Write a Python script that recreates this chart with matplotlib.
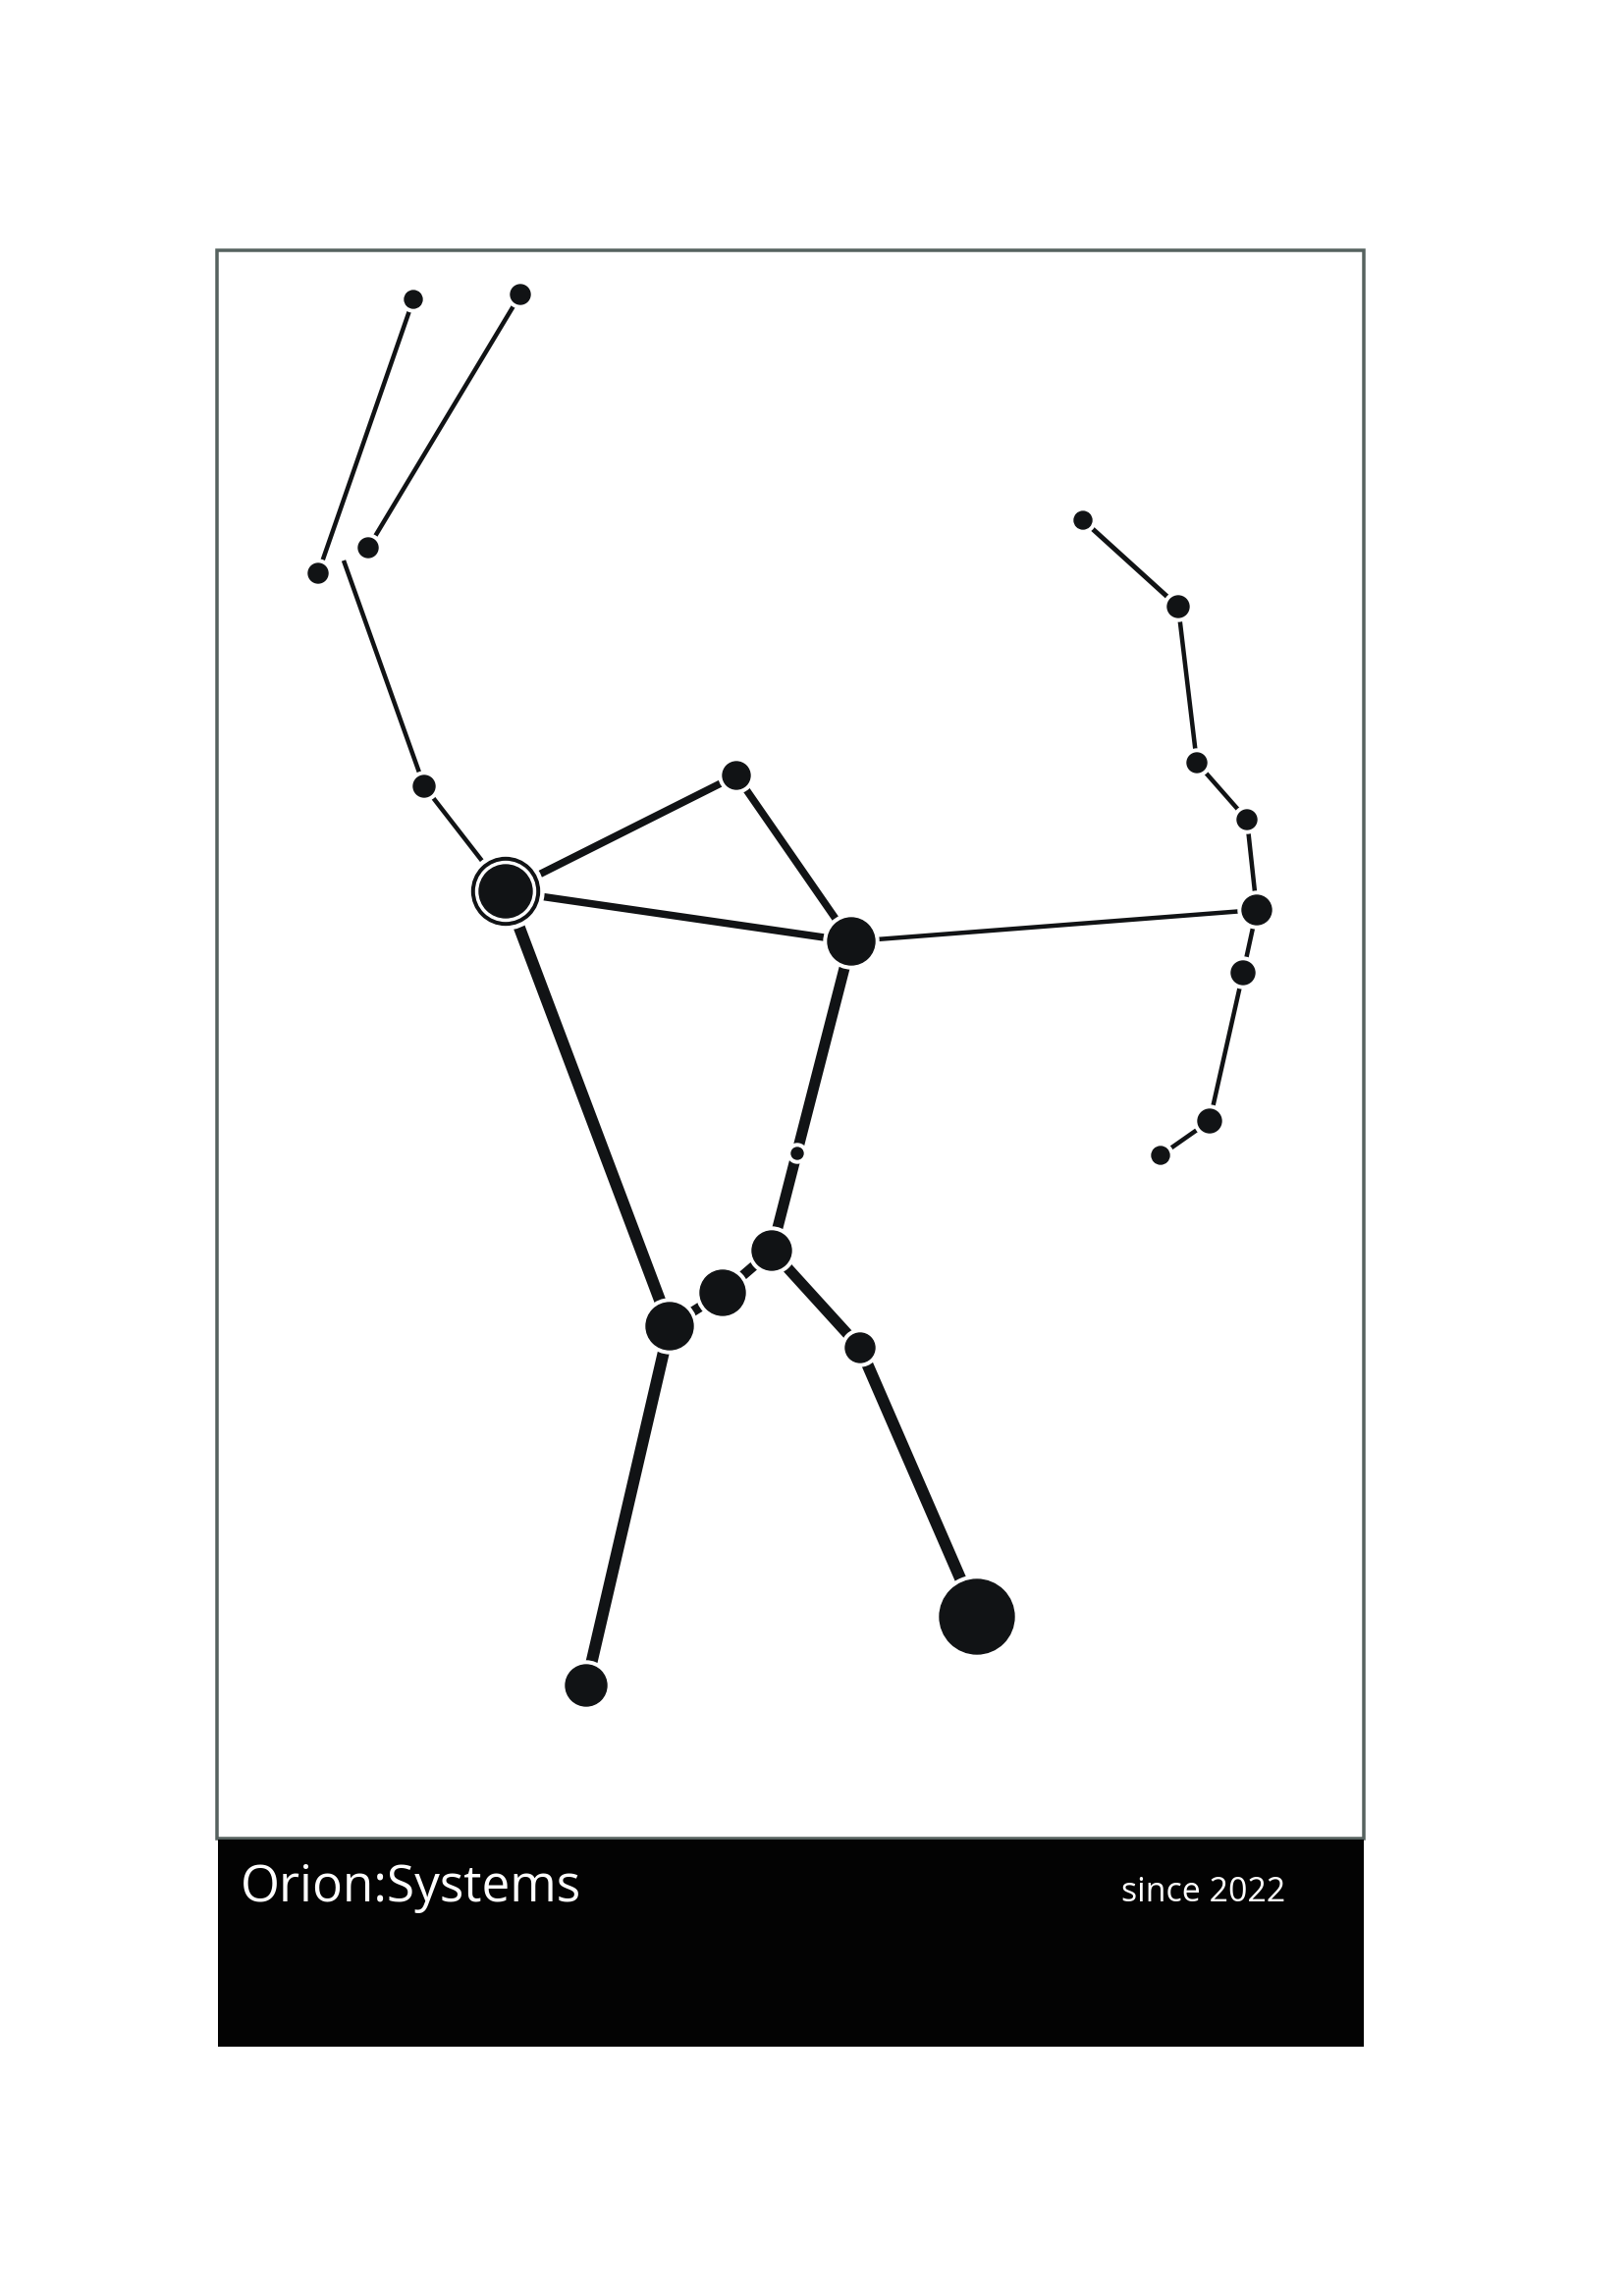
import matplotlib
matplotlib.use("Agg")
import matplotlib.pyplot as plt
from matplotlib.patches import Circle, Rectangle

# page is drawn in pixel units (1654 x 2339), y grows downward
star_names = ["s1", "s2", "s3", "s4", "junction", "s5", "betelgeuse", "s7",
              "bellatrix", "s9", "s10", "s11", "s12", "s13", "s14", "s15",
              "s16", "s17", "mintaka", "alnilam", "alnitak", "s21", "rigel", "s23"]
star_x = [421, 530, 324, 375, 350, 432, 515, 750, 867, 1103, 1200, 1219,
          1270, 1280, 1266, 1232, 1182, 812, 786, 736, 682, 876, 995, 597]
star_y = [305, 300, 584, 558, 571, 801, 908, 790, 959, 530, 618, 777,
          835, 927, 991, 1142, 1177, 1175, 1274, 1317, 1351, 1373, 1647, 1717]
star_r = [9, 10, 10, 10, 0, 11, 27, 14, 24, 9, 11, 10,
          10, 15, 12, 12, 9, 6, 20, 23, 24, 15, 38, 21]

edge_from = ["s1", "s2", "junction", "s5", "betelgeuse", "betelgeuse", "s7",
             "bellatrix", "s9", "s10", "s11", "s12", "s13", "s14", "s15",
             "betelgeuse", "bellatrix", "mintaka", "alnilam", "mintaka",
             "s21", "alnitak"]
edge_to = ["s3", "s4", "s5", "betelgeuse", "s7", "bellatrix", "bellatrix",
           "s13", "s10", "s11", "s12", "s13", "s14", "s15", "s16",
           "alnitak", "mintaka", "alnilam", "alnitak", "s21", "rigel", "s23"]
edge_w = [4.5, 4.5, 4.5, 4.5, 7.5, 7.5, 7.5, 4.5, 5, 4.5, 4.5, 4.5, 4.5, 4.5, 4.5,
          12, 11, 10, 10, 11, 12, 12]

title = "Orion:Systems"
subtitle = "since 2022"

ink = "#111315"
pt = 0.72  # points per pixel at dpi 100

fig = plt.figure(figsize=(16.54, 23.39), dpi=100)
ax = fig.add_axes([0, 0, 1, 1])
ax.set_xlim(0, 1654)
ax.set_ylim(2339, 0)
ax.axis("off")

# frame and footer band
ax.add_patch(Rectangle((221, 255), 1168, 1618, fill=False,
                       edgecolor="#56625f", linewidth=3.5 * pt, zorder=1))
ax.add_patch(Rectangle((222, 1874), 1167, 211, facecolor="#030303",
                       edgecolor="none", zorder=2))

pos = {n: (x, y) for n, x, y in zip(star_names, star_x, star_y)}

for a, b, w in zip(edge_from, edge_to, edge_w):
    ax.plot([pos[a][0], pos[b][0]], [pos[a][1], pos[b][1]], color=ink,
            linewidth=w * pt, solid_capstyle="butt", zorder=3)

for n, x, y, r in zip(star_names, star_x, star_y, star_r):
    if r == 0:
        continue
    if n == "betelgeuse":
        ax.add_patch(Circle((x, y), r + 12, color="white", zorder=4))
        ax.add_patch(Circle((x, y), r + 7.5, color=ink, zorder=5))
        ax.add_patch(Circle((x, y), r + 3.5, color="white", zorder=6))
    else:
        ax.add_patch(Circle((x, y), r + 4, color="white", zorder=4))
    ax.add_patch(Circle((x, y), r, color=ink, zorder=7))

ax.text(245, 1937, title, color="white", fontsize=37, family="Open Sans",
        va="baseline", ha="left", zorder=8)
ax.text(1142, 1937, subtitle, color="white", fontsize=24.5, family="Open Sans",
        va="baseline", ha="left", zorder=8)

fig.savefig("out.png", dpi=100, facecolor="white")
